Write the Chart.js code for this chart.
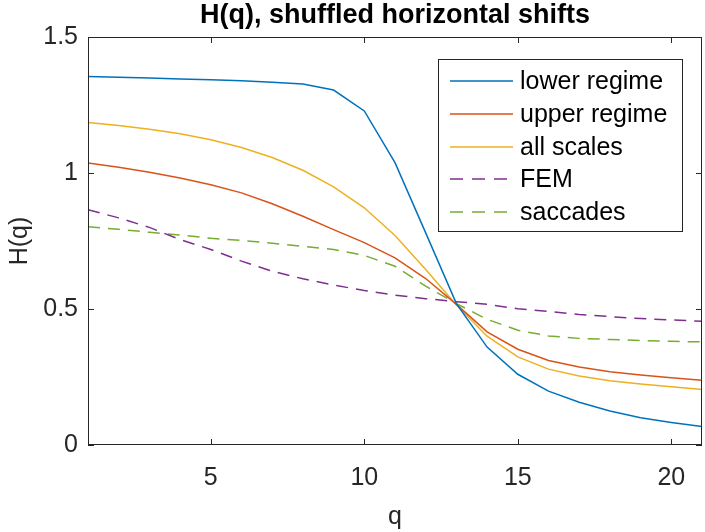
<!DOCTYPE html>
<html>
<head>
<meta charset="utf-8">
<script src="https://cdn.jsdelivr.net/npm/chart.js@4"></script>
<style>
  html, body { margin: 0; padding: 0; background: #fff; }
  #wrap { width: 705px; height: 532px; }
</style>
</head>
<body>
<div id="wrap"><canvas id="hq"></canvas></div>
<script>
// q values and H(q) curves
const qValues = [1, 2, 3, 4, 5, 6, 7, 8, 9, 10, 11, 12, 13, 14, 15, 16, 17, 18, 19, 20, 21];
const lowerRegime = [1.355, 1.352, 1.349, 1.346, 1.343, 1.339, 1.334, 1.327, 1.305, 1.228, 1.038, 0.78, 0.52, 0.36, 0.26, 0.198, 0.157, 0.125, 0.1, 0.083, 0.068];
const upperRegime = [1.037, 1.021, 1.003, 0.982, 0.957, 0.927, 0.887, 0.841, 0.792, 0.744, 0.688, 0.612, 0.517, 0.416, 0.352, 0.311, 0.287, 0.269, 0.257, 0.247, 0.238];
const allScales = [1.186, 1.175, 1.161, 1.144, 1.122, 1.094, 1.057, 1.01, 0.949, 0.872, 0.77, 0.645, 0.515, 0.4, 0.324, 0.279, 0.254, 0.236, 0.224, 0.214, 0.204];
const femValues = [0.865, 0.835, 0.8, 0.755, 0.719, 0.676, 0.639, 0.611, 0.588, 0.568, 0.551, 0.538, 0.527, 0.517, 0.501, 0.491, 0.48, 0.472, 0.465, 0.46, 0.455];
const saccadeValues = [0.802, 0.793, 0.782, 0.772, 0.76, 0.752, 0.742, 0.73, 0.719, 0.697, 0.657, 0.584, 0.52, 0.462, 0.422, 0.401, 0.392, 0.388, 0.384, 0.381, 0.379];

const xTicks = [5, 10, 15, 20];
const yTicks = [0, 0.5, 1, 1.5];

const AXIS_COLOR = "#262626";
const FONT = "'Liberation Sans', Arial, Helvetica, sans-serif";

function series(label, values, color, dashed) {
  return {
    label: label,
    data: qValues.map((q, i) => ({ x: q, y: values[i] })),
    borderColor: color,
    backgroundColor: color,
    borderWidth: 1.5,
    borderDash: dashed ? [12, 8] : [],
    pointRadius: 0,
    tension: 0,
    fill: false
  };
}

// Draws the MATLAB-like frame, inward ticks, title, axis labels and legend
const matlabDecor = {
  id: "matlabDecor",
  afterDatasetsDraw(chart) {
    const ctx = chart.ctx;
    const a = chart.chartArea;
    const xs = chart.scales.x, ys = chart.scales.y;
    const tick = 6;
    ctx.save();
    ctx.strokeStyle = AXIS_COLOR;
    ctx.lineWidth = 1;
    ctx.strokeRect(a.left + 0.5, a.top + 0.5, a.right - a.left - 1, a.bottom - a.top - 1);
    ctx.beginPath();
    xTicks.forEach(v => {
      const px = Math.round(xs.getPixelForValue(v)) + 0.5;
      ctx.moveTo(px, a.bottom); ctx.lineTo(px, a.bottom - tick);
      ctx.moveTo(px, a.top); ctx.lineTo(px, a.top + tick);
    });
    yTicks.forEach(v => {
      const py = Math.round(ys.getPixelForValue(v)) + 0.5;
      ctx.moveTo(a.left, py); ctx.lineTo(a.left + tick, py);
      ctx.moveTo(a.right, py); ctx.lineTo(a.right - tick, py);
    });
    ctx.stroke();

    // title
    ctx.fillStyle = "#000";
    ctx.font = "bold 27px " + FONT;
    ctx.textAlign = "center";
    ctx.textBaseline = "alphabetic";
    ctx.fillText("H(q), shuffled horizontal shifts", (a.left + a.right) / 2, 23);

    // axis labels
    ctx.fillStyle = AXIS_COLOR;
    ctx.font = "25px " + FONT;
    ctx.textBaseline = "middle";
    ctx.fillText("q", (a.left + a.right) / 2, 517);
    ctx.save();
    ctx.translate(20, (a.top + a.bottom) / 2);
    ctx.rotate(-Math.PI / 2);
    ctx.fillText("H(q)", 0, 0);
    ctx.restore();

    // legend
    const box = { x: 438, y: 59, w: 244, h: 172 };
    ctx.fillStyle = "#fff";
    ctx.fillRect(box.x, box.y, box.w, box.h);
    ctx.strokeStyle = AXIS_COLOR;
    ctx.strokeRect(box.x + 0.5, box.y + 0.5, box.w, box.h);
    const rowY = [81, 114, 147, 179, 212];
    ctx.font = "25px " + FONT;
    ctx.textAlign = "left";
    ctx.textBaseline = "middle";
    chart.data.datasets.forEach((ds, i) => {
      ctx.beginPath();
      ctx.strokeStyle = ds.borderColor;
      ctx.lineWidth = 1.5;
      ctx.setLineDash(ds.borderDash.length ? [13, 9] : []);
      ctx.moveTo(450, rowY[i]);
      ctx.lineTo(513, rowY[i]);
      ctx.stroke();
      ctx.setLineDash([]);
      ctx.fillStyle = "#000";
      ctx.fillText(ds.label, 520, rowY[i] + 1);
    });
    ctx.restore();
  }
};

new Chart(document.getElementById("hq"), {
  type: "line",
  data: {
    datasets: [
      series("lower regime", lowerRegime, "#0072BD", false),
      series("upper regime", upperRegime, "#D95319", false),
      series("all scales", allScales, "#EDB120", false),
      series("FEM", femValues, "#7E2F8E", true),
      series("saccades", saccadeValues, "#77AC30", true)
    ]
  },
  options: {
    responsive: true,
    maintainAspectRatio: false,
    animation: false,
    layout: { padding: { top: 37, right: 3, left: 0, bottom: 0 } },
    plugins: {
      legend: { display: false },
      title: { display: false },
      tooltip: { enabled: false }
    },
    scales: {
      x: {
        type: "linear",
        min: 1,
        max: 21,
        afterBuildTicks: s => { s.ticks = xTicks.map(v => ({ value: v })); },
        afterFit: s => { s.height = 87; },
        grid: { drawOnChartArea: false, drawTicks: false },
        border: { display: false },
        ticks: { color: AXIS_COLOR, padding: 18, maxRotation: 0, font: { family: FONT, size: 25 }, callback: v => String(v) }
      },
      y: {
        type: "linear",
        min: 0,
        max: 1.5,
        afterBuildTicks: s => { s.ticks = yTicks.map(v => ({ value: v })); },
        afterFit: s => { s.width = 88; },
        grid: { drawOnChartArea: false, drawTicks: false },
        border: { display: false },
        ticks: { color: AXIS_COLOR, padding: 10, font: { family: FONT, size: 25 }, callback: v => String(v) }
      }
    }
  },
  plugins: [matlabDecor]
});
</script>
</body>
</html>
